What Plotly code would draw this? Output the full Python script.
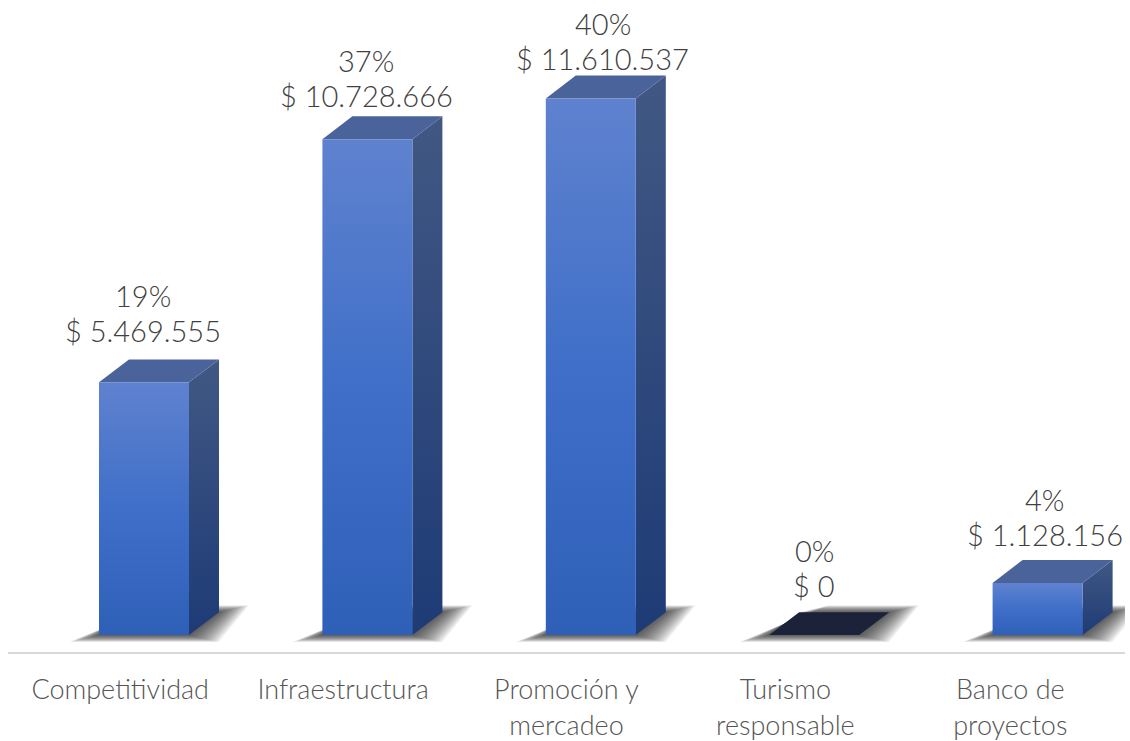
import plotly.graph_objects as go

categories = ["Competitividad", "Infraestructura", "Promoción y<br>mercadeo", "Turismo<br>responsable", "Banco de<br>proyectos"]
values = [5469555, 10728666, 11610537, 0, 1128156]
shares = ["19%", "37%", "40%", "0%", "4%"]
amounts = ["$ 5.469.555", "$ 10.728.666", "$ 11.610.537", "$ 0", "$ 1.128.156"]

W, H = 1130, 741
ML, MR, MT, MB = 8, 5, 0, 85
UY = 11610537 / 540.0      # value per pixel
UX = 1 / 223.4             # category per pixel
BAR_L, BAR_W = -20.7 * UX, 90 * UX
DX, DY = 30 * UX, 23 * UY
label_dx = [-1, -1, 12, 0, 7]      # px from the front-face centre
label_gap = [9, 1, -2, 7, 6]       # px above the top face
tick_dx = [0.5, 0, 0, -4.5, -3]    # px nudges of the category labels

FRONT = [[0, "#2f60b8"], [0.5, "#3f6fc8"], [1, "#5f82cf"]]
SIDE = [[0, "#1e3b76"], [1, "#415883"]]
TOP = "#4a639b"
FLOOR = "#1b2239"
TEXT = "#404040"
FONT = "Lato"


def poly(xs, ys, **kw):
    return go.Scatter(x=xs, y=ys, mode="lines", fill="toself", line=dict(width=0),
                      hoverinfo="skip", showlegend=False, **kw)


fig = go.Figure()

# soft floor shadows: stacked translucent parallelograms
layers = 24
for k in range(layers):
    t = 1 - k / (layers - 1)
    ex = 30 * t * UX
    ey = 7 * t * UY
    xs, ys = [], []
    for i in range(len(values)):
        l = i + BAR_L
        r = l + BAR_W
        xs += [l - ex, r + ex, r + DX + ex, l + DX + ex, l - ex, None]
        ys += [-ey, -ey, DY + ey, DY + ey, -ey, None]
    fig.add_trace(poly(xs, ys, fillcolor="rgba(40,40,40,0.05)"))

for i, v in enumerate(values):
    l = i + BAR_L
    r = l + BAR_W
    if v == 0:
        fig.add_trace(poly([l, r, r + DX, l + DX, l], [0, 0, DY, DY, 0], fillcolor=FLOOR))
        continue
    fig.add_trace(poly([r, r + DX, r + DX, r, r], [0, DY, v + DY, v, 0],
                       fillgradient=dict(type="vertical", colorscale=SIDE)))
    fig.add_trace(poly([l, r, r + DX, l + DX, l], [v, v, v + DY, v + DY, v], fillcolor=TOP))
    fig.add_trace(poly([l, r, r, l, l], [0, 0, v, v, 0],
                       fillgradient=dict(type="vertical", colorscale=FRONT)))

for i, v in enumerate(values):
    cx = i + BAR_L + BAR_W / 2
    for txt, up in ((amounts[i], 0), (shares[i], 35)):
        fig.add_annotation(x=cx, y=v + DY, xref="x", yref="y", text=txt, showarrow=False,
                           xanchor="center", yanchor="bottom", align="center",
                           xshift=label_dx[i], yshift=label_gap[i] + up,
                           font=dict(family=FONT, size=29, color=TEXT, weight=300))

fig.update_layout(
    width=W, height=H, margin=dict(l=ML, r=MR, t=MT, b=MB, pad=0),
    paper_bgcolor="white", plot_bgcolor="white", showlegend=False,
    xaxis=dict(range=[-0.5, 4.5], tickmode="array",
               tickvals=[i + tick_dx[i] * UX for i in range(5)], ticktext=categories,
               showgrid=False, zeroline=False, showline=True, linecolor="#d9d9d9", linewidth=2,
               ticks="", ticklabelstandoff=13,
               tickfont=dict(family=FONT, size=27, color="#555555", weight=300)),
    yaxis=dict(range=[-17 * UY, 639 * UY], visible=False, showgrid=False, zeroline=False),
)
fig.write_html("out.html", config=dict(displayModeBar=False),
               post_script="document.body.style.margin='0';")
